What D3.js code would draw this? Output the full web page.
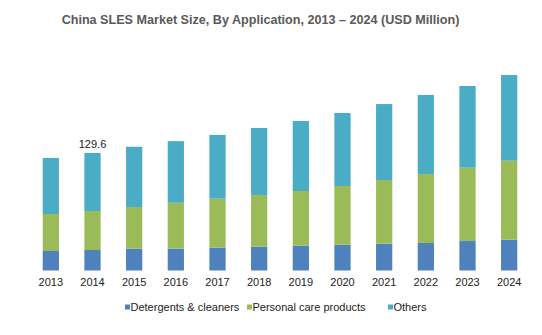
<!DOCTYPE html>
<html>
<head>
<meta charset="utf-8">
<script src="https://cdn.jsdelivr.net/npm/d3@7"></script>
<style>
  body { margin: 0; background: #fff; }
  text { font-family: "Liberation Sans", Arial, sans-serif; }
</style>
</head>
<body>
<script>
"use strict";

const years = ["2013", "2014", "2015", "2016", "2017", "2018", "2019", "2020", "2021", "2022", "2023", "2024"];
const detergents = [21.5, 22.6, 24.0, 24.1, 25.1, 26.3, 27.4, 28.5, 29.6, 30.3, 32.5, 34.0];
const personalCare = [40.8, 43.0, 46.0, 50.6, 54.1, 57.0, 60.3, 64.7, 70.2, 76.1, 80.9, 87.1];
const others = [61.8, 64.0, 66.5, 68.0, 70.3, 73.9, 77.2, 80.5, 83.8, 87.2, 90.1, 94.5];
const seriesNames = ["Detergents & cleaners", "Personal care products", "Others"];
const colors = ["#4F81BD", "#9BBB59", "#4BACC6"];
const labelled = { year: "2014", text: "129.6" };

const w = 542, h = 335;
const margin = { top: 40, left: 30, right: 12, bottom: 64.5 };
const width = w - margin.left - margin.right;
const height = h - margin.top - margin.bottom;

const rows = years.map((y, i) => ({ year: y, d: detergents[i], p: personalCare[i], o: others[i] }));
const stack = d3.stack().keys(["d", "p", "o"])(rows);

const x = d3.scaleBand()
	.domain(years)
	.range([0, width])
	.paddingInner(0.61)
	.paddingOuter(0.305);
const y = d3.scaleLinear()
	.domain([0, 129.6])
	.range([height, height - 117.5]);

const svg = d3.select("body").append("svg")
	.attr("width", w)
	.attr("height", h);

svg.append("text")
	.attr("x", 260.5)
	.attr("y", 24)
	.attr("text-anchor", "middle")
	.style("font-size", "12.6px")
	.style("font-weight", "bold")
	.style("fill", "#595959")
	.text("China SLES Market Size, By Application, 2013 – 2024 (USD Million)");

const chart = svg.append("g")
	.attr("transform", `translate(${margin.left}, ${margin.top})`);

chart.selectAll("g.layer")
	.data(stack)
	.join("g")
	.attr("class", "layer")
	.attr("fill", (d, i) => colors[i])
	.selectAll("rect")
	.data(d => d)
	.join("rect")
	.attr("x", d => x(d.data.year))
	.attr("width", x.bandwidth())
	.attr("y", d => y(d[1]))
	.attr("height", d => y(d[0]) - y(d[1]));

// value label on top of one bar
const idx = years.indexOf(labelled.year);
chart.append("text")
	.attr("x", x(labelled.year) + x.bandwidth() / 2)
	.attr("y", y(stack[2][idx][1]) - 5)
	.attr("text-anchor", "middle")
	.style("font-size", "11px")
	.style("fill", "#222")
	.text(labelled.text);

const xAxis = chart.append("g")
	.attr("transform", `translate(0, ${height})`)
	.call(d3.axisBottom(x).tickSize(0).tickPadding(8));
xAxis.select(".domain").remove();
xAxis.selectAll("text")
	.style("font-size", "11px")
	.style("font-family", "'Liberation Sans', Arial, sans-serif")
	.style("fill", "#222");

// legend
const legendX = [125, 247, 388];
const legend = svg.append("g")
	.selectAll("g")
	.data(seriesNames)
	.join("g")
	.attr("transform", (d, i) => `translate(${legendX[i]}, 307)`);
legend.append("rect")
	.attr("x", 0)
	.attr("y", -2.5)
	.attr("width", 5)
	.attr("height", 5)
	.attr("fill", (d, i) => colors[i]);
legend.append("text")
	.attr("x", 5.5)
	.attr("y", 4)
	.style("font-size", "11px")
	.style("fill", "#222")
	.text(d => d);
</script>
</body>
</html>
